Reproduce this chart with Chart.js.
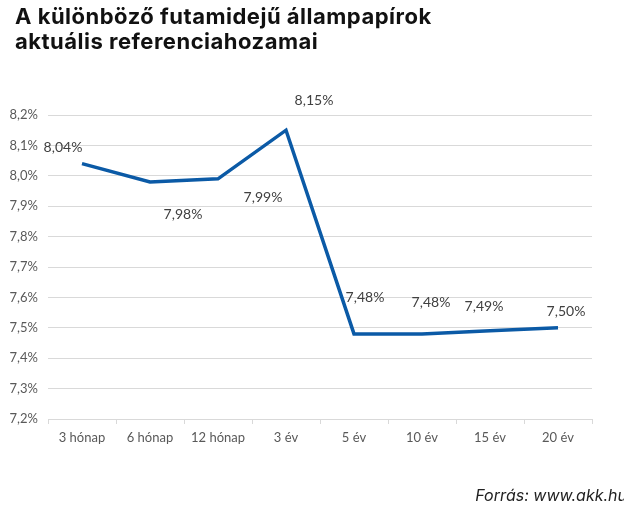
<!DOCTYPE html>
<html>
<head>
<meta charset="utf-8">
<script src="https://cdn.jsdelivr.net/npm/chart.js@4"></script>
<style>
  html, body { margin: 0; padding: 0; background: #fff; }
  #wrap { position: relative; width: 624px; height: 510px; overflow: hidden; }
  #chart { position: absolute; left: 0; top: 0; }
  #title { position: absolute; left: 15px; top: 4px; font-family: "Inter", sans-serif; font-weight: 700; font-size: 22px; line-height: 25px; color: #111; letter-spacing: 0.5px; }
  #source { position: absolute; right: -3px; top: 485px; font-family: "Inter", sans-serif; font-style: italic; font-size: 16px; color: #222; }
</style>
</head>
<body>
<div id="wrap">
  <canvas id="chart" width="624" height="510"></canvas>
  <div id="title">A különböző futamidejű állampapírok<br>aktuális referenciahozamai</div>
  <div id="source">Forrás: www.akk.hu</div>
</div>
<script>
const categories = ["3 hónap", "6 hónap", "12 hónap", "3 év", "5 év", "10 év", "15 év", "20 év"];
const yields = [8.04, 7.98, 7.99, 8.15, 7.48, 7.48, 7.49, 7.50];
const yMin = 7.2;
const yMax = 8.2;
const yStep = 0.1;
// label offsets (px) relative to each point
const labelDx = [-19, 33, 45, 28, 11, 9, -6, 8];
const labelDy = [-16, 33, 19, -30, -36, -31, -24, -16];

const fmt = v => v.toFixed(2).replace('.', ',') + '%';

const labelPlugin = {
  id: 'pointLabels',
  afterDatasetsDraw(chart) {
    const ctx = chart.ctx;
    const meta = chart.getDatasetMeta(0);
    ctx.save();
    ctx.font = '14px Lato, sans-serif';
    ctx.fillStyle = '#404040';
    ctx.textAlign = 'center';
    ctx.textBaseline = 'middle';
    meta.data.forEach((pt, i) => {
      ctx.fillText(fmt(yields[i]), pt.x + labelDx[i], pt.y + labelDy[i]);
    });
    ctx.restore();
  }
};

new Chart(document.getElementById('chart'), {
  type: 'line',
  data: {
    labels: categories,
    datasets: [{
      data: yields,
      borderColor: '#0b5aa6',
      borderWidth: 3.5,
      pointRadius: 0,
      tension: 0,
      fill: false
    }]
  },
  options: {
    responsive: false,
    animation: false,
    layout: { padding: { left: 0, right: 32, top: 115, bottom: 51 } },
    plugins: { legend: { display: false }, tooltip: { enabled: false } },
    scales: {
      x: {
        offset: true,
        afterFit: s => { s.height = 40; },
        grid: { offset: true, drawOnChartArea: false, drawTicks: true, tickLength: 5, color: '#d9d9d9' },
        border: { display: true, color: '#d9d9d9' },
        ticks: { padding: 6, color: '#595959', font: { family: 'Lato', size: 13 } }
      },
      y: {
        min: yMin,
        max: yMax,
        afterFit: s => { s.width = 48; },
        grid: { drawTicks: false, color: '#d9d9d9', lineWidth: 1 },
        border: { display: false },
        ticks: {
          stepSize: yStep,
          padding: 10,
          color: '#595959',
          font: { family: 'Lato', size: 13 },
          callback: v => v.toFixed(1).replace('.', ',') + '%'
        }
      }
    }
  },
  plugins: [labelPlugin]
});
</script>
</body>
</html>
